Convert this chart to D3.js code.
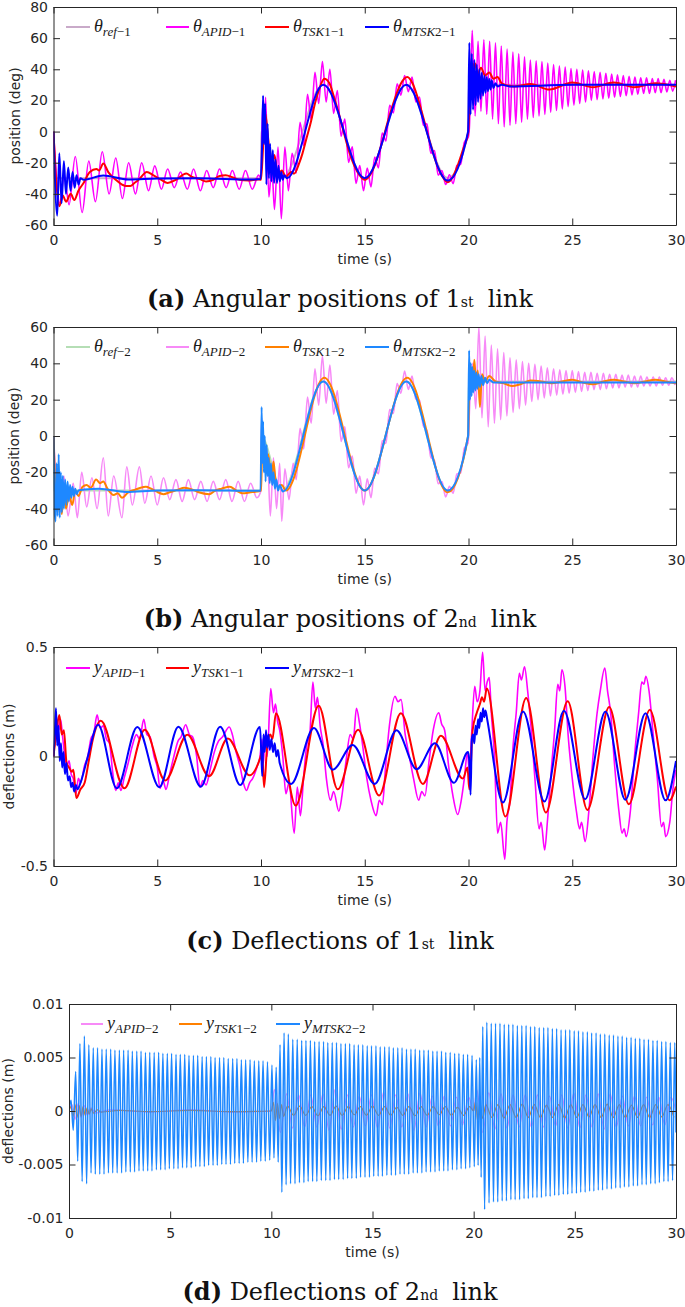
<!DOCTYPE html>
<html><head><meta charset="utf-8">
<script src="https://cdn.jsdelivr.net/npm/d3@7"></script>
<style>body{margin:0;background:#fff}svg{display:block}</style>
</head><body>
<script>
// ---------- tick values ----------
const timeTicks = [0,5,10,15,20,25,30];
const thetaTicks1 = [-60,-40,-20,0,20,40,60,80];
const thetaTicks2 = [-60,-40,-20,0,20,40,60];
const deflTicks1 = [-0.5,0,0.5];
const deflTicks2 = [-0.01,-0.005,0,0.005,0.01];

// ---------- (a) angular positions, link 1 (deg) ----------
const thetaRef1 = [[0,0],[0.01,-30],[10,-30],[10.01,0],[11,-30],[13,30],[15,-30],[17,30],[19,-30],[20,0],[20.01,30],[30,30]];
const thetaAPID1 = [[0,0],[0.12,-25],[0.3,-46],[0.52,-28],[0.75,-47],[1.05,-16],[1.38,-52],[1.7,-19],[2.02,-45],[2.35,-13],[2.68,-40],[3.0,-17],[3.32,-43],[3.62,-20],[3.95,-40],[4.25,-20],[4.58,-38],[4.88,-22],[5.2,-37],[5.5,-24],[5.82,-36],[6.12,-26],[6.45,-37],[6.75,-24],[7.08,-38],[7.38,-25],[7.7,-36],[8.0,-24],[8.32,-36],[8.62,-25],[8.95,-37],[9.25,-25],[9.58,-37],[9.88,-28],[10.0,-30],[10.08,18],[10.15,0],[10.22,22],[10.38,-42],[10.52,-22],[10.65,-50],[10.82,-10],[10.98,-56],[11.15,-10],[11.32,-38],[11.5,-14],[11.7,-26.5],[11.88,6],[12.06,-9],[12.24,24],[12.42,7.6],[12.6,38],[12.78,18],[12.96,45],[13.14,19],[13.32,40],[13.5,11.6],[13.68,26.4],[13.86,-3],[14.04,8],[14.22,-19.8],[14.4,-9.8],[14.58,-33.3],[14.76,-21.8],[14.94,-38],[15.12,-23.4],[15.3,-35.5],[15.48,-16.3],[15.66,-23.3],[15.84,-1],[16.02,-6],[16.2,16.9],[16.38,12],[16.56,30.7],[16.74,23.4],[16.92,36],[17.1,25.6],[17.28,35],[17.46,19],[17.64,22.2],[17.82,3.9],[18.0,5],[18.18,-13.9],[18.36,-12.2],[18.54,-28],[18.72,-25],[18.9,-34],[19.08,-27.7],[19.26,-33.4],[19.44,-21.7],[19.62,-21],[19.8,-6.9],[19.98,-4],[20.04,2],[20.18,65],[20.32,10],[20.46,58],[20.6,13],[20.74,59],[20.88,11],[21.02,58],[21.16,8],[21.3,57],[21.44,5],[21.58,55],[21.72,3],[21.86,53],[22.0,4],[22.14,51],[22.28,5],[22.42,50],[22.56,6],[22.7,48],[22.84,8],[22.98,46],[23.12,9],[23.26,45.5],[23.4,10],[23.54,45],[23.68,11],[23.82,44],[23.96,12.5],[24.1,43],[24.24,13.5],[24.38,42],[24.52,14.5],[24.66,41.5],[24.8,16],[24.94,40.5],[25.08,17],[25.22,40],[25.36,18],[25.5,39.5],[25.64,19],[25.78,39],[25.92,20],[26.06,38.5],[26.2,20.5],[26.34,38],[26.48,21],[26.62,37.5],[26.76,21.5],[26.9,37],[27.04,22],[27.18,36.5],[27.32,22.5],[27.46,36],[27.6,23],[27.74,35.5],[27.88,23.5],[28.02,35],[28.16,24],[28.3,34.5],[28.44,24.5],[28.58,34.5],[28.72,24.5],[28.86,34],[29.0,25],[29.14,34],[29.28,25],[29.42,33.5],[29.56,25.5],[29.7,33],[29.84,26],[29.98,33]];
const thetaTSK1_1 = [[0,0],[0.12,-30],[0.28,-48],[0.45,-41],[0.6,-45],[0.83,-40],[1.0,-44],[1.2,-38],[1.45,-33],[1.75,-26],[2.07,-24],[2.2,-25],[2.4,-20.5],[2.64,-26],[3.0,-31],[3.3,-34],[3.5,-35],[3.7,-35],[3.9,-33],[4.1,-31],[4.5,-26],[4.8,-28],[5.2,-31],[5.5,-33],[5.9,-31],[6.4,-27],[6.65,-29],[7.05,-30.5],[7.35,-32],[7.7,-31],[8.0,-28.5],[8.3,-28],[8.65,-29.5],[8.96,-31],[9.4,-31.5],[9.85,-30.7],[10.0,-31],[10.1,-10],[10.2,12],[10.35,-5],[10.5,-22],[10.65,-15],[10.8,-28],[11.0,-25],[11.2,-29],[11.45,-26],[11.6,-27],[11.85,-20],[12.0,-14],[12.2,-4],[12.4,6],[12.6,18],[12.8,27],[13.05,34],[13.3,31],[13.5,23],[13.7,14],[13.9,4],[14.1,-6],[14.3,-15],[14.5,-22],[14.75,-28],[15.0,-31],[15.25,-28],[15.5,-21],[15.7,-13],[15.9,-4],[16.1,6],[16.3,15],[16.5,23],[16.75,31],[17.05,35],[17.3,31],[17.5,24],[17.7,15],[17.9,5],[18.1,-5],[18.3,-14],[18.5,-22],[18.75,-29],[19.0,-32.5],[19.25,-29],[19.5,-21],[19.75,-11],[19.98,-1],[20.1,30],[20.3,44],[20.45,37],[20.6,41],[20.8,36],[21.0,38],[21.2,34],[21.4,35],[21.6,31],[22.2,29],[23.0,30.5],[23.9,27],[25.0,31.5],[26.0,28.5],[27.0,31.5],[28.0,28.5],[29.0,31],[30,29]];
const thetaMTSK2_1 = [[0,0],[0.18,-54],[0.28,-14],[0.39,-46],[0.5,-19],[0.6,-40],[0.71,-23],[0.82,-38],[0.92,-26],[1.02,-36],[1.11,-28],[1.21,-34],[1.3,-30],[1.45,-31],[2.4,-28.2],[3.6,-30.8],[5,-30.2],[7,-30],[9.5,-30.8],[9.98,-30.5],[10.06,-5],[10.1,23],[10.15,-8],[10.2,18],[10.26,-34],[10.32,5],[10.38,-30],[10.44,-8],[10.5,-32],[10.57,-12],[10.63,-33],[10.7,-18],[10.77,-33],[10.84,-22],[10.91,-32],[10.98,-26],[11.05,-31],[11.12,-28],[11.25,-30],[13,30],[15,-30],[17,30],[19,-31.5],[19.98,0],[20.04,57],[20.1,11],[20.16,50],[20.22,14],[20.28,46],[20.34,17],[20.4,43],[20.46,19],[20.52,40],[20.58,21],[20.64,38],[20.7,23],[20.76,36],[20.82,25],[20.88,35],[20.94,26],[21.0,34],[21.06,27],[21.12,33],[21.2,28],[21.3,31],[21.4,29],[21.6,30],[22,29],[25,30],[30,30]];

// ---------- (b) angular positions, link 2 (deg) ----------
const thetaRef2 = [[0,0],[0.01,-30],[10,-30],[10.01,0],[11,-30],[13,30],[15,-30],[17,30],[19,-30],[20,0],[20.01,30],[30,30]];
const thetaAPID2 = [[0,0],[0.12,-22],[0.3,-38],[0.5,-22],[0.7,-44],[0.95,-26],[1.15,-45],[1.36,-20],[1.6,-39],[1.85,-23],[2.1,-40],[2.4,-12],[2.64,-44],[2.9,-22],[3.3,-45],[3.53,-17],[3.8,-38],[4.14,-17],[4.4,-37],[4.7,-22],[5.0,-38],[5.3,-23],[5.6,-35],[5.9,-24],[6.2,-36],[6.5,-24],[6.8,-35],[7.1,-25],[7.4,-36],[7.7,-25],[8.0,-35],[8.3,-24],[8.6,-36],[8.9,-25],[9.2,-36],[9.5,-26],[9.8,-34],[10.0,-30],[10.03,10],[10.1,-5],[10.2,-20],[10.3,-8],[10.45,-44],[10.6,-12],[10.75,-40],[10.9,-15],[11.0,-47],[11.15,-18],[11.35,-35],[11.55,-15],[11.7,-24],[11.88,4.2],[12.06,-7.1],[12.24,21.4],[12.42,7],[12.6,37],[12.78,17],[12.96,44],[13.14,18],[13.32,39],[13.5,12],[13.68,25],[13.86,-3],[14.04,5],[14.22,-17.5],[14.4,-11],[14.58,-31.5],[14.76,-22],[14.94,-38],[15.12,-23.5],[15.3,-34],[15.48,-17.6],[15.66,-20.8],[15.84,-2.7],[16.02,-4],[16.2,14.6],[16.38,12.4],[16.56,28.9],[16.74,23.5],[16.92,35.8],[17.1,25.6],[17.28,33],[17.46,20.3],[17.64,19.6],[17.82,5.6],[18.0,3],[18.18,-11.6],[18.36,-13.6],[18.54,-26.3],[18.72,-25.1],[18.9,-33.6],[19.08,-27.7],[19.26,-31.5],[19.44,-20.9],[19.62,-20.4],[19.8,-6.6],[19.98,-4],[20.05,15],[20.2,40],[20.35,15],[20.5,60],[20.65,10],[20.8,55],[20.95,5],[21.1,50],[21.25,7],[21.4,48],[21.55,9],[21.7,46],[21.85,11],[22.0,43],[22.15,13],[22.3,42],[22.45,15],[22.6,41],[22.75,17],[22.9,40],[23.05,19],[23.2,39.5],[23.35,20],[23.5,38.5],[23.65,21],[23.8,37.5],[23.95,22],[24.1,37],[24.25,22.5],[24.4,36.5],[24.55,23],[24.7,36],[24.85,23.5],[25.0,36],[25.15,24],[25.3,35.5],[25.45,24.5],[25.6,35],[25.75,25],[25.9,35],[26.05,25.5],[26.2,34.5],[26.35,25.5],[26.5,34.5],[26.65,26],[26.8,34],[26.95,26.5],[27.1,34],[27.25,26.5],[27.4,33.5],[27.55,27],[27.7,33.5],[27.85,27],[28.0,33],[28.15,27],[28.3,33],[28.45,27.5],[28.6,32.5],[28.75,27.5],[28.9,32.5],[29.05,27.5],[29.2,32.5],[29.35,28],[29.5,32],[29.65,28],[29.8,32],[29.95,28]];
const thetaTSK1_2 = [[0,0],[0.1,-30],[0.2,-42],[0.3,-25],[0.4,-43],[0.5,-28],[0.6,-40],[0.75,-32],[0.9,-38],[1.05,-30],[1.2,-33],[1.4,-28],[1.6,-27],[1.8,-28.5],[2.05,-24],[2.25,-26],[2.4,-25],[2.6,-29],[2.9,-32.5],[3.1,-31.5],[3.3,-34],[3.6,-31],[3.95,-29.5],[4.2,-28.5],[4.45,-28],[4.7,-29],[4.95,-30.5],[5.3,-32],[5.6,-31],[6.0,-29.5],[6.3,-28.5],[6.7,-29.5],[7.0,-31],[7.5,-32],[7.8,-30],[8.1,-29],[8.5,-28],[8.8,-30],[9.1,-31.5],[9.5,-31],[9.8,-30.6],[10.0,-30],[10.05,-10],[10.1,0],[10.2,-15],[10.35,-10],[10.5,-25],[10.6,-14],[10.7,-24],[10.85,-28],[11.0,-27],[11.2,-30],[13.05,32],[15.0,-30],[17.05,32],[19.0,-31],[19.98,0],[20.05,30],[20.12,38],[20.2,28],[20.28,42],[20.36,30],[20.45,36],[20.55,16],[20.65,34],[20.8,30],[21.0,33],[21.3,30],[21.7,29],[22.1,27.5],[22.5,28.5],[23.0,30.5],[23.5,30],[24.0,29],[24.5,30],[25.0,31],[25.5,29.5],[26.0,28.5],[26.5,30],[27.0,31],[27.5,30],[28.0,29],[28.5,30],[29.0,31],[29.5,30],[30,29]];
const thetaMTSK2_2 = [[0,0],[0.05,-40],[0.1,-47],[0.15,-15],[0.2,-44],[0.25,-10],[0.3,-45],[0.35,-20],[0.4,-42],[0.45,-22],[0.5,-40],[0.56,-24],[0.62,-38],[0.68,-25],[0.74,-36],[0.8,-27],[0.86,-34],[0.92,-28],[0.98,-33],[1.05,-29],[1.12,-32],[1.2,-30],[1.5,-29.5],[2.2,-29],[3.5,-30.8],[5,-30],[7,-29.8],[9.98,-30.2],[10.03,16],[10.07,-15],[10.1,8],[10.14,-20],[10.18,0],[10.22,-25],[10.27,-5],[10.32,-22],[10.37,-12],[10.42,-26],[10.48,-15],[10.54,-27],[10.6,-20],[10.67,-29],[10.74,-24],[10.82,-30],[10.9,-27],[11.05,-30.5],[13,30],[15,-30],[17,30],[19,-30],[19.98,0],[20.03,47],[20.07,20],[20.11,40],[20.15,22],[20.19,38],[20.23,24],[20.28,36],[20.33,25],[20.38,35],[20.43,26],[20.49,34],[20.55,27],[20.62,33],[20.7,28],[20.8,32],[20.9,29],[21.0,31],[21.2,29.5],[22,29.5],[30,29.5]];

// ---------- (c) deflections, link 1 (m) ----------
const yAPID1 = [[0,0],[0.1,0.1],[0.18,0.17],[0.26,0.12],[0.34,0.17],[0.45,0.08],[0.55,0.0],[0.65,-0.04],[0.75,-0.02],[0.85,-0.08],[0.95,-0.1],[1.08,-0.17],[1.2,-0.1],[1.3,-0.12],[1.5,-0.04],[1.65,0.0],[1.8,0.08],[1.95,0.11],[2.1,0.19],[2.25,0.13],[2.4,0.14],[2.55,0.08],[2.7,0.06],[2.85,-0.07],[3.0,-0.155],[3.12,-0.12],[3.25,-0.155],[3.4,-0.1],[3.6,-0.03],[3.8,0.05],[4.0,0.1],[4.15,0.08],[4.35,0.17],[4.5,0.1],[4.65,0.09],[4.85,0.0],[5.0,-0.05],[5.13,-0.145],[5.28,-0.11],[5.42,-0.15],[5.6,-0.08],[5.8,0.0],[6.0,0.07],[6.15,0.09],[6.37,0.145],[6.55,0.1],[6.7,0.09],[6.9,0.0],[7.06,-0.14],[7.2,-0.11],[7.35,-0.13],[7.55,-0.06],[7.75,0.02],[7.95,0.07],[8.15,0.09],[8.47,0.135],[8.62,0.1],[8.8,0.02],[9.0,-0.05],[9.15,-0.12],[9.3,-0.155],[9.45,-0.12],[9.6,-0.1],[9.8,-0.05],[9.95,0.0],[10.05,0.08],[10.12,-0.03],[10.2,0.1],[10.3,0.0],[10.47,0.31],[10.6,0.2],[10.7,0.24],[10.8,0.16],[10.9,0.12],[11.05,0.0],[11.2,-0.17],[11.35,-0.12],[11.6,-0.35],[11.75,-0.14],[11.9,-0.27],[12.05,-0.1],[12.2,0.05],[12.35,0.1],[12.5,0.34],[12.62,0.22],[12.72,0.27],[12.85,0.14],[13.0,0.05],[13.15,-0.1],[13.35,-0.2],[13.5,-0.16],[13.75,-0.25],[13.9,-0.18],[14.1,-0.02],[14.3,0.1],[14.45,0.08],[14.6,0.22],[14.75,0.15],[14.9,0.05],[15.1,-0.1],[15.3,-0.2],[15.55,-0.27],[15.7,-0.2],[15.85,-0.22],[16.0,-0.05],[16.2,0.15],[16.46,0.275],[16.6,0.25],[16.75,0.26],[16.95,0.1],[17.15,0.0],[17.35,-0.1],[17.6,-0.2],[17.75,-0.16],[17.9,-0.18],[18.1,-0.02],[18.3,0.12],[18.57,0.2],[18.7,0.15],[18.85,0.12],[19.05,-0.05],[19.25,-0.18],[19.48,-0.265],[19.65,-0.2],[19.8,-0.1],[19.95,0.02],[20.05,-0.08],[20.15,0.1],[20.3,0.32],[20.42,0.25],[20.55,0.3],[20.68,0.476],[20.8,0.3],[20.9,0.34],[21.0,0.36],[21.1,0.2],[21.25,0.0],[21.4,-0.35],[21.55,-0.3],[21.75,-0.47],[21.85,-0.3],[22.0,-0.2],[22.15,0.05],[22.3,0.2],[22.45,0.38],[22.55,0.35],[22.7,0.41],[22.85,0.3],[23.0,0.15],[23.2,-0.1],[23.4,-0.33],[23.5,-0.3],[23.67,-0.427],[23.8,-0.3],[24.0,-0.05],[24.15,0.12],[24.3,0.33],[24.4,0.3],[24.5,0.396],[24.65,0.32],[24.8,0.1],[25.0,-0.1],[25.2,-0.25],[25.35,-0.33],[25.45,-0.3],[25.62,-0.389],[25.8,-0.25],[26.0,0.0],[26.2,0.2],[26.35,0.3],[26.57,0.404],[26.7,0.3],[26.85,0.2],[27.05,-0.05],[27.25,-0.25],[27.4,-0.35],[27.5,-0.33],[27.6,-0.366],[27.8,-0.25],[28.0,0.0],[28.2,0.2],[28.35,0.34],[28.45,0.33],[28.55,0.366],[28.7,0.3],[28.9,0.1],[29.1,-0.1],[29.3,-0.32],[29.4,-0.3],[29.5,-0.366],[29.7,-0.3],[29.85,-0.15],[30,-0.06]];
const yTSK1_1 = [[0,0],[0.15,0.12],[0.28,0.19],[0.4,0.1],[0.5,0.12],[0.63,-0.03],[0.75,-0.05],[0.88,-0.07],[0.96,-0.06],[1.1,-0.19],[1.3,-0.15],[1.5,-0.12],[1.7,-0.02],[1.9,0.08],[2.28,0.163],[3.42,-0.145],[4.4,0.122],[5.38,-0.11],[6.45,0.099],[7.5,-0.09],[8.4,0.082],[9.45,-0.086],[9.95,-0.01],[10.05,0.02],[10.15,-0.14],[10.3,0.05],[10.45,0.1],[10.55,0.08],[10.72,0.198],[11.67,-0.224],[12.78,0.232],[13.7,-0.15],[14.68,0.122],[15.69,-0.178],[16.74,0.198],[17.8,-0.125],[18.67,0.095],[19.73,-0.1],[19.95,-0.05],[20.04,-0.15],[20.2,0.12],[20.4,0.2],[20.55,0.24],[20.65,0.27],[20.75,0.25],[20.88,0.31],[21.78,-0.274],[22.78,0.267],[23.73,-0.256],[24.78,0.252],[25.73,-0.244],[26.78,0.226],[27.73,-0.218],[28.74,0.213],[29.68,-0.2],[30,-0.137]];
const yMTSK2_1 = [[0,0],[0.06,0.1],[0.12,0.22],[0.18,0.05],[0.24,0.14],[0.3,-0.02],[0.36,0.06],[0.42,-0.05],[0.48,0.02],[0.55,-0.08],[0.62,-0.03],[0.7,-0.11],[0.78,-0.09],[0.85,-0.14],[0.92,-0.12],[1.0,-0.16],[1.08,-0.13],[1.15,-0.15],[1.3,-0.12],[1.6,-0.02],[2.15,0.145],[3.05,-0.145],[4.04,0.135],[5.1,-0.14],[6.02,0.136],[7.1,-0.138],[8.03,0.136],[9.0,-0.13],[9.95,0.135],[10.02,0.0],[10.06,-0.09],[10.12,0.1],[10.18,0.02],[10.24,0.12],[10.3,0.04],[10.36,0.1],[10.42,0.03],[10.5,0.08],[10.58,0.02],[10.66,0.06],[10.74,0.0],[10.82,0.03],[10.9,-0.03],[11.45,-0.125],[12.55,0.13],[13.46,-0.06],[14.42,0.053],[15.48,-0.125],[16.53,0.12],[17.5,-0.058],[18.38,0.061],[19.3,-0.12],[19.98,0.02],[20.04,-0.02],[20.1,-0.175],[20.16,0.08],[20.22,0.1],[20.28,0.06],[20.34,0.14],[20.4,0.1],[20.46,0.17],[20.52,0.13],[20.58,0.2],[20.64,0.16],[20.7,0.22],[20.76,0.18],[20.82,0.21],[20.9,0.17],[21.66,-0.21],[22.63,0.206],[23.66,-0.206],[24.6,0.209],[25.62,-0.195],[26.6,0.206],[27.56,-0.198],[28.53,0.198],[29.5,-0.2],[30,-0.02]];

// ---------- (d) deflections, link 2 (m) ----------
const yAPID2 = [[0,0],[0.15,0.0006],[0.3,-0.0008],[0.45,0.0007],[0.6,-0.0006],[0.75,0.0005],[0.9,-0.0004],[1.1,0.0003],[1.3,-0.0002],[2,0.0001],[4,-0.0001],[6,0.0001],[8,-0.0001],[10,0],[10.15,0.002],[10.45,-0.002],[10.75,0.0016],[11.05,-0.0016],[11.35,0.0015],[11.65,-0.0015],[11.95,0.0015],[12.25,-0.0015],[12.55,0.0016],[12.85,-0.0018],[13.15,0.002],[13.45,-0.0017],[13.75,0.0015],[14.05,-0.0015],[14.35,0.0014],[14.65,-0.0014],[14.95,0.0015],[15.25,-0.0016],[15.55,0.0018],[15.85,-0.0016],[16.15,0.0015],[16.45,-0.0015],[16.75,0.0016],[17.05,-0.0018],[17.35,0.0017],[17.65,-0.0015],[17.95,0.0014],[18.25,-0.0014],[18.55,0.0014],[18.85,-0.0014],[19.15,0.0013],[19.45,-0.0013],[19.75,0.0013],[20.0,0],[20.15,0.002],[20.45,-0.002],[20.75,0.0017],[21.05,-0.0017],[21.35,0.0016],[21.65,-0.0016],[21.95,0.0015],[22.25,-0.0015],[22.55,0.0015],[22.85,-0.0015],[23.15,0.0015],[23.45,-0.0015],[23.75,0.0014],[24.05,-0.0014],[24.35,0.0015],[24.65,-0.0016],[24.95,0.0017],[25.25,-0.0016],[25.55,0.0015],[25.85,-0.0015],[26.15,0.0016],[26.45,-0.0017],[26.75,0.0016],[27.05,-0.0015],[27.35,0.0014],[27.65,-0.0014],[27.95,0.0014],[28.25,-0.0014],[28.55,0.0013],[28.85,-0.0013],[29.15,0.0013],[29.45,-0.0013],[29.75,0.0013],[30,0]];
const yTSK1_2 = [[0,0],[0.1,0.0004],[0.2,-0.0005],[0.3,0.0006],[0.4,-0.0006],[0.5,0.0005],[0.6,-0.0005],[0.7,0.0004],[0.8,-0.0004],[0.9,0.0003],[1.0,-0.0003],[1.1,0.0002],[1.2,-0.0002],[1.4,0.0001],[1.6,-0.0001],[2.5,0.00005],[4,-0.00005],[6,0.00005],[8,-0.00005],[10,0],[10.1,0.0008],[10.2,-0.0009],[10.3,0.0007],[10.4,-0.0007],[10.5,0.0006],[10.6,-0.0005],[10.8,0.00045],[11.1,-0.0004],[11.4,0.00045],[11.7,-0.0004],[12.0,0.0004],[12.3,-0.00045],[12.6,0.0004],[12.9,-0.0004],[13.2,0.00045],[13.5,-0.0004],[13.8,0.0004],[14.1,-0.00035],[14.4,0.0004],[14.7,-0.0004],[15.0,0.00045],[15.3,-0.0004],[15.6,0.0004],[15.9,-0.0004],[16.2,0.00035],[16.5,-0.0004],[16.8,0.0004],[17.1,-0.00045],[17.4,0.0004],[17.7,-0.0004],[18.0,0.0004],[18.3,-0.00035],[18.6,0.0004],[18.9,-0.0004],[19.2,0.00035],[19.5,-0.0004],[19.8,0.0004],[20.0,0],[20.1,0.0009],[20.2,-0.001],[20.3,0.0008],[20.45,-0.0007],[20.6,0.0006],[20.9,-0.0006],[21.2,0.0006],[21.5,-0.00065],[21.8,0.0006],[22.1,-0.0006],[22.4,0.00065],[22.7,-0.0006],[23.0,0.0006],[23.3,-0.0006],[23.6,0.00055],[23.9,-0.0006],[24.2,0.0006],[24.5,-0.00065],[24.8,0.0006],[25.1,-0.0006],[25.4,0.0006],[25.7,-0.00055],[26.0,0.0006],[26.3,-0.0006],[26.6,0.00065],[26.9,-0.0006],[27.2,0.0006],[27.5,-0.0006],[27.8,0.00055],[28.1,-0.0006],[28.4,0.0006],[28.7,-0.0006],[29.0,0.0006],[29.3,-0.00055],[29.6,0.0006],[29.9,-0.0006]];
const yMTSK2_2 = [[0,0],[0.1,0.001],[0.21,-0.0018],[0.33,0.0037],[0.43,-0.0047],[0.54,0.0063],[0.65,-0.0066],[0.76,0.007],[0.87,-0.0068],[0.98,0.0062],[1.09,-0.0058],[1.2,0.0059],[1.3,-0.0059],[1.41,0.0059],[1.52,-0.0059],[1.63,0.0058],[1.73,-0.0059],[1.84,0.0058],[1.95,-0.0058],[2.06,0.0058],[2.16,-0.0058],[2.27,0.0057],[2.38,-0.0058],[2.49,0.0057],[2.6,-0.0058],[2.7,0.0057],[2.81,-0.0057],[2.92,0.0057],[3.03,-0.0057],[3.13,0.0056],[3.24,-0.0057],[3.35,0.0056],[3.46,-0.0056],[3.56,0.0056],[3.67,-0.0056],[3.78,0.0055],[3.89,-0.0056],[3.99,0.0055],[4.1,-0.0056],[4.21,0.0055],[4.32,-0.0055],[4.43,0.0055],[4.53,-0.0055],[4.64,0.0054],[4.75,-0.0055],[4.86,0.0054],[4.96,-0.0054],[5.07,0.0054],[5.18,-0.0054],[5.29,0.0053],[5.39,-0.0054],[5.5,0.0053],[5.61,-0.0053],[5.72,0.0053],[5.82,-0.0053],[5.93,0.0052],[6.04,-0.0053],[6.15,0.0052],[6.26,-0.0052],[6.36,0.0052],[6.47,-0.0052],[6.58,0.0051],[6.69,-0.0052],[6.79,0.0051],[6.9,-0.0051],[7.01,0.0051],[7.12,-0.0051],[7.22,0.005],[7.33,-0.0051],[7.44,0.005],[7.55,-0.005],[7.65,0.005],[7.76,-0.005],[7.87,0.0049],[7.98,-0.005],[8.09,0.0049],[8.19,-0.0049],[8.3,0.0049],[8.41,-0.0049],[8.52,0.0048],[8.62,-0.0049],[8.73,0.0048],[8.84,-0.0048],[8.95,0.0048],[9.05,-0.0048],[9.16,0.0047],[9.27,-0.0048],[9.38,0.0047],[9.48,-0.0047],[9.59,0.0047],[9.7,-0.0047],[9.81,0.0046],[9.92,-0.0046],[10.03,0.0043],[10.13,-0.0044],[10.24,0.0041],[10.34,-0.0048],[10.43,0.0062],[10.52,-0.0076],[10.63,0.0073],[10.73,-0.0069],[10.84,0.0072],[10.95,-0.0068],[11.06,0.0067],[11.17,-0.0068],[11.28,0.0067],[11.39,-0.0067],[11.5,0.0066],[11.61,-0.0067],[11.71,0.0066],[11.82,-0.0066],[11.93,0.0066],[12.04,-0.0066],[12.14,0.0065],[12.25,-0.0066],[12.36,0.0065],[12.47,-0.0065],[12.58,0.0065],[12.69,-0.0065],[12.79,0.0064],[12.9,-0.0065],[13.01,0.0064],[13.12,-0.0064],[13.22,0.0064],[13.33,-0.0064],[13.44,0.0063],[13.55,-0.0064],[13.66,0.0063],[13.77,-0.0063],[13.87,0.0063],[13.98,-0.0063],[14.09,0.0062],[14.2,-0.0063],[14.3,0.0062],[14.41,-0.0062],[14.52,0.0062],[14.63,-0.0062],[14.74,0.0061],[14.85,-0.0062],[14.95,0.0061],[15.06,-0.0061],[15.17,0.0061],[15.28,-0.0061],[15.38,0.006],[15.49,-0.0061],[15.6,0.006],[15.71,-0.006],[15.82,0.006],[15.93,-0.006],[16.03,0.0059],[16.14,-0.006],[16.25,0.0059],[16.36,-0.0059],[16.46,0.0059],[16.57,-0.0059],[16.68,0.0058],[16.79,-0.0059],[16.9,0.0058],[17.01,-0.0058],[17.11,0.0058],[17.22,-0.0058],[17.33,0.0057],[17.44,-0.0058],[17.54,0.0057],[17.65,-0.0057],[17.76,0.0057],[17.87,-0.0057],[17.98,0.0056],[18.09,-0.0057],[18.19,0.0056],[18.3,-0.0056],[18.41,0.0056],[18.52,-0.0056],[18.62,0.0055],[18.73,-0.0056],[18.84,0.0055],[18.95,-0.0055],[19.06,0.0054],[19.17,-0.0055],[19.27,0.0054],[19.38,-0.0054],[19.49,0.0053],[19.6,-0.0054],[19.7,0.0053],[19.81,-0.0053],[19.92,0.0052],[20.03,-0.0052],[20.13,0.0048],[20.22,-0.0051],[20.3,0.005],[20.37,-0.0062],[20.45,0.0079],[20.54,-0.0092],[20.65,0.0083],[20.76,-0.0086],[20.87,0.0082],[20.98,-0.0085],[21.08,0.0082],[21.19,-0.0085],[21.3,0.0082],[21.41,-0.0084],[21.51,0.0081],[21.62,-0.0084],[21.73,0.0081],[21.84,-0.0083],[21.94,0.0081],[22.05,-0.0083],[22.16,0.008],[22.27,-0.0083],[22.38,0.008],[22.49,-0.0082],[22.59,0.008],[22.7,-0.0082],[22.81,0.0079],[22.92,-0.0081],[23.02,0.0079],[23.13,-0.0081],[23.24,0.0078],[23.35,-0.0081],[23.46,0.0078],[23.57,-0.008],[23.67,0.0078],[23.78,-0.008],[23.89,0.0077],[24.0,-0.0079],[24.1,0.0077],[24.21,-0.0079],[24.32,0.0076],[24.43,-0.0078],[24.54,0.0076],[24.65,-0.0078],[24.75,0.0076],[24.86,-0.0077],[24.97,0.0075],[25.08,-0.0077],[25.18,0.0075],[25.29,-0.0076],[25.4,0.0074],[25.51,-0.0076],[25.62,0.0074],[25.73,-0.0075],[25.83,0.0073],[25.94,-0.0075],[26.05,0.0073],[26.16,-0.0074],[26.26,0.0072],[26.37,-0.0074],[26.48,0.0072],[26.59,-0.0073],[26.7,0.0071],[26.81,-0.0073],[26.91,0.0071],[27.02,-0.0072],[27.13,0.007],[27.24,-0.0072],[27.34,0.007],[27.45,-0.0071],[27.56,0.0069],[27.67,-0.0071],[27.78,0.0069],[27.89,-0.007],[27.99,0.0068],[28.1,-0.007],[28.21,0.0068],[28.32,-0.0069],[28.42,0.0067],[28.53,-0.0069],[28.64,0.0067],[28.75,-0.0068],[28.86,0.0066],[28.97,-0.0068],[29.07,0.0066],[29.18,-0.0067],[29.29,0.0065],[29.4,-0.0066],[29.5,0.0065],[29.61,-0.0066],[29.72,0.0064],[29.83,-0.0065],[29.94,0.0064],[30.0,-0.002]];

// ---------- legend / caption text ----------
const legendThetaParts = [["ref","−1"],["APID","−1"],["TSK","1−1"],["MTSK","2−1"]];
const legendTheta2Parts = [["ref","−2"],["APID","−2"],["TSK","1−2"],["MTSK","2−2"]];
const legendDefl1Parts = [["APID","−1"],["TSK","1−1"],["MTSK","2−1"]];
const legendDefl2Parts = [["APID","−2"],["TSK","1−2"],["MTSK","2−2"]];
const captions = [["a","Angular positions of ","1","st"],["b","Angular positions of ","2","nd"],["c","Deflections of ","1","st"],["d","Deflections of ","2","nd"]];

// ---------- drawing ----------
const AX = '#262626';
const svg = d3.select('body').append('svg').attr('width',685).attr('height',1307);
svg.append('rect').attr('width',685).attr('height',1307).attr('fill','#fff');
const defs = svg.append('defs');

function drawPanel(p){
  const x = d3.scaleLinear().domain([0,30]).range([p.left,p.right]);
  const y = d3.scaleLinear().domain(p.yDomain).range([p.bottom,p.top]);
  defs.append('clipPath').attr('id','clip'+p.id).append('rect')
    .attr('x',p.left).attr('y',p.top).attr('width',p.right-p.left).attr('height',p.bottom-p.top);
  const g = svg.append('g');
  const plot = g.append('g').attr('clip-path',`url(#clip${p.id})`);
  const line = d3.line().x(d=>x(d[0])).y(d=>y(d[1])).curve(d3.curveMonotoneX);
  p.series.forEach(s=>{
    plot.append('path').attr('d',line(s.data)).attr('fill','none')
      .attr('stroke',s.color).attr('stroke-width',s.w).attr('stroke-linejoin','round');
  });
  const fmt = d=>String(d);
  const styleAxis = sel=>{
    sel.select('.domain').attr('stroke',AX).attr('stroke-width',1);
    sel.selectAll('.tick line').attr('stroke',AX).attr('stroke-width',1);
    sel.selectAll('text').attr('fill',AX).attr('font-family','DejaVu Sans').attr('font-size',14);
  };
  g.append('g').attr('transform',`translate(0,${p.bottom})`)
    .call(d3.axisBottom(x).tickValues(timeTicks).tickSize(-6.5).tickSizeOuter(0).tickPadding(10).tickFormat(fmt)).call(styleAxis);
  g.append('g').attr('transform',`translate(0,${p.top})`)
    .call(d3.axisTop(x).tickValues(timeTicks).tickSize(-6.5).tickSizeOuter(0).tickFormat('')).call(styleAxis);
  g.append('g').attr('transform',`translate(${p.left},0)`)
    .call(d3.axisLeft(y).tickValues(p.yTicks).tickSize(-6.5).tickSizeOuter(0).tickPadding(5.5).tickFormat(fmt)).call(styleAxis);
  g.append('g').attr('transform',`translate(${p.right},0)`)
    .call(d3.axisRight(y).tickValues(p.yTicks).tickSize(-6.5).tickSizeOuter(0).tickFormat('')).call(styleAxis);
  g.append('text').attr('x',(p.left+p.right)/2).attr('y',p.bottom+38.5).attr('text-anchor','middle')
    .attr('font-family','DejaVu Sans').attr('font-size',14).attr('fill',AX).text('time (s)');
  g.append('text').attr('transform',`translate(${p.ylabX},${(p.top+p.bottom)/2}) rotate(-90)`).attr('text-anchor','middle')
    .attr('font-family','DejaVu Sans').attr('font-size',14).attr('fill',AX).text(p.ylabel);
  p.legend.items.forEach(it=>{
    const ly = p.legend.y;
    g.append('line').attr('x1',it.x1).attr('x2',it.x2).attr('y1',ly).attr('y2',ly)
      .attr('stroke',it.color).attr('stroke-width',2);
    const t = g.append('text').attr('x',it.x2+4).attr('y',ly+5).attr('font-family','Liberation Serif').attr('fill','#1a1a1a');
    t.append('tspan').attr('font-style','italic').attr('font-size',18).text(p.legend.sym);
    t.append('tspan').attr('font-style','italic').attr('font-size',13).attr('dy',4).text(it.parts[0]);
    t.append('tspan').attr('font-size',13).text(it.parts[1]);
  });
}

function caption(c, yb){
  const t = svg.append('text').attr('x',340).attr('y',yb).attr('text-anchor','middle')
    .attr('font-family','DejaVu Serif').attr('font-size',24).attr('fill','#111');
  t.append('tspan').attr('font-weight','bold').text('('+c[0]+')');
  t.append('tspan').text(' '+c[1]+c[2]);
  t.append('tspan').attr('font-size',14).text(c[3]);
  t.append('tspan').attr('dx',14).text('link');
}

const mk = (parts, xs, colors)=>parts.map((pp,i)=>({parts:pp,x1:xs[i][0],x2:xs[i][1],color:colors[i]}));
const xsAB = [[66,90],[166,189],[265,289],[365,389]];
const xsD = [[81,103],[179,202],[276,300]];

drawPanel({id:'a',left:53.5,right:676,top:7,bottom:225,yDomain:[-60,80],yTicks:thetaTicks1,ylabel:'position (deg)',ylabX:19.5,
  series:[{data:thetaRef1,color:'#c9aac9',w:2},{data:thetaAPID1,color:'#ff00ff',w:1.6},{data:thetaTSK1_1,color:'#ff0000',w:2},{data:thetaMTSK2_1,color:'#0000ff',w:2}],
  legend:{y:27,sym:'θ',items:mk(legendThetaParts,xsAB,['#c9aac9','#ff00ff','#ff0000','#0000ff'])}});
drawPanel({id:'b',left:53.5,right:676,top:327,bottom:545,yDomain:[-60,60],yTicks:thetaTicks2,ylabel:'position (deg)',ylabX:18.6,
  series:[{data:thetaRef2,color:'#b5deb5',w:2},{data:thetaAPID2,color:'#f78af7',w:1.6},{data:thetaTSK1_2,color:'#ff8000',w:2},{data:thetaMTSK2_2,color:'#1e88ff',w:2}],
  legend:{y:347,sym:'θ',items:mk(legendTheta2Parts,xsAB,['#b5deb5','#f78af7','#ff8000','#1e88ff'])}});
drawPanel({id:'c',left:53.5,right:676,top:647,bottom:866,yDomain:[-0.5,0.5],yTicks:deflTicks1,ylabel:'deflections (m)',ylabX:14.3,
  series:[{data:yAPID1,color:'#ff00ff',w:1.6},{data:yTSK1_1,color:'#ff0000',w:2},{data:yMTSK2_1,color:'#0000ff',w:2}],
  legend:{y:668,sym:'y',items:mk(legendDefl1Parts,xsAB,['#ff00ff','#ff0000','#0000ff'])}});
drawPanel({id:'d',left:69,right:676,top:1004,bottom:1218,yDomain:[-0.01,0.01],yTicks:deflTicks2,ylabel:'deflections (m)',ylabX:13.4,
  series:[{data:yAPID2,color:'#f78af7',w:1.2},{data:yTSK1_2,color:'#ff8000',w:1.2},{data:yMTSK2_2,color:'#1e88ff',w:1.5}],
  legend:{y:1024,sym:'y',items:mk(legendDefl2Parts,xsD,['#f78af7','#ff8000','#1e88ff'])}});

caption(captions[0],307);
caption(captions[1],627);
caption(captions[2],949);
caption(captions[3],1300);
</script>
</body></html>
